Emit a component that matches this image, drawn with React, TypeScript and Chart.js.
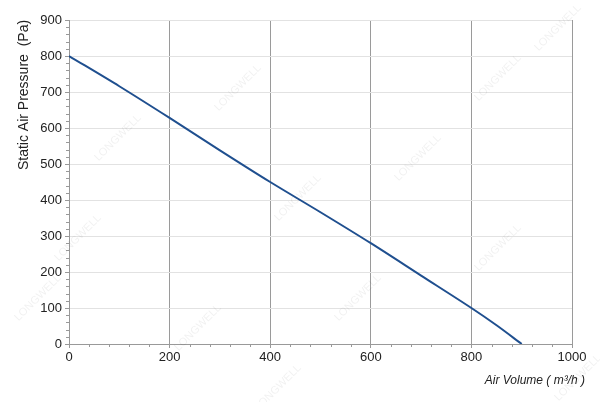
import React, { useEffect, useRef } from "react";
import { Chart, registerables } from "chart.js";

Chart.register(...registerables);

const airVolume = [0, 100, 200, 300, 400, 500, 600, 700, 800, 850, 900];
const staticPressure = [800, 716, 628, 538, 450, 366, 280, 190, 100, 52, 0];
const xTicks = [0, 200, 400, 600, 800, 1000];
const yTicks = [0, 100, 200, 300, 400, 500, 600, 700, 800, 900];
const xTitle = "Air Volume ( m³/h )";
const yTitle = "Static Air Pressure  (Pa)";
const watermark = "LONGWELL";

const FONT = "'Liberation Sans', Arial, sans-serif";

const decorPlugin = {
  id: "decor",
  beforeDatasetsDraw(chart: any) {
    const { ctx } = chart;
    ctx.save();
    ctx.font = `11px ${FONT}`;
    ctx.fillStyle = "rgba(0,0,0,0.06)";
    const marks = [
      [120, 140], [240, 90], [80, 240], [300, 200], [500, 80], [560, 30],
      [420, 160], [200, 330], [360, 300], [500, 250], [40, 300], [280, 390], [580, 380],
    ];
    for (const [mx, my] of marks) {
      ctx.save();
      ctx.translate(mx, my);
      ctx.rotate(-Math.PI / 4);
      ctx.textAlign = "center";
      ctx.fillText(watermark, 0, 0);
      ctx.restore();
    }
    ctx.restore();
  },
  afterDraw(chart: any) {
    const { ctx, chartArea } = chart;
    const xs = chart.scales.x;
    const ys = chart.scales.y;
    ctx.save();
    ctx.strokeStyle = "#999";
    ctx.lineWidth = 1;
    for (let v = 0; v <= 1000; v += 40) {
      if (v % 200 === 0) continue;
      const px = Math.round(xs.getPixelForValue(v)) + 0.5;
      ctx.beginPath();
      ctx.moveTo(px, chartArea.bottom);
      ctx.lineTo(px, chartArea.bottom + 3);
      ctx.stroke();
    }
    for (let v = 0; v <= 900; v += 20) {
      if (v % 100 === 0) continue;
      const py = Math.round(ys.getPixelForValue(v)) + 0.5;
      ctx.beginPath();
      ctx.moveTo(chartArea.left - 3, py);
      ctx.lineTo(chartArea.left, py);
      ctx.stroke();
    }
    ctx.fillStyle = "#222";
    ctx.font = `14px ${FONT}`;
    ctx.save();
    ctx.translate(24, 95);
    ctx.rotate(-Math.PI / 2);
    ctx.textAlign = "center";
    ctx.textBaseline = "middle";
    ctx.fillText(yTitle, 0, 0);
    ctx.restore();
    ctx.font = `italic 12px ${FONT}`;
    ctx.textAlign = "right";
    ctx.textBaseline = "middle";
    ctx.fillText(xTitle, 585, 381);
    ctx.restore();
  },
};

export default function App() {
  const ref = useRef<HTMLCanvasElement>(null);
  useEffect(() => {
    const canvas = ref.current!;
    const chart = new Chart(canvas, {
      type: "line",
      data: {
        datasets: [
          {
            data: airVolume.map((x, i) => ({ x, y: staticPressure[i] })),
            borderColor: "#1f4f8f",
            borderWidth: 2,
            pointRadius: 0,
            tension: 0.3,
            fill: false,
          },
        ],
      },
      options: {
        animation: false,
        responsive: false,
        maintainAspectRatio: false,
        devicePixelRatio: 1,
        layout: { padding: { left: 0, right: 28, top: 20, bottom: 0 } },
        plugins: { legend: { display: false }, tooltip: { enabled: false } },
        scales: {
          x: {
            type: "linear",
            min: 0,
            max: 1000,
            afterBuildTicks: (s: any) => {
              s.ticks = xTicks.map((v) => ({ value: v }));
            },
            afterFit: (s: any) => {
              s.height = 58;
            },
            ticks: {
              color: "#222",
              font: { family: FONT, size: 13 },
              padding: 2,
              maxRotation: 0,
              callback: (v: any) => String(v),
            },
            grid: {
              color: "#9a9a9a",
              tickLength: 4,
              tickColor: "#999",
            },
            border: { display: true, color: "#999" },
          },
          y: {
            type: "linear",
            min: 0,
            max: 900,
            afterBuildTicks: (s: any) => {
              s.ticks = yTicks.map((v) => ({ value: v }));
            },
            afterFit: (s: any) => {
              s.width = 69;
            },
            ticks: {
              color: "#222",
              font: { family: FONT, size: 13 },
              padding: 3,
              callback: (v: any) => String(v),
            },
            grid: {
              color: "#e2e2e2",
              tickLength: 4,
              tickColor: "#999",
            },
            border: { display: true, color: "#999" },
          },
        },
      },
      plugins: [decorPlugin],
    } as any);
    return () => chart.destroy();
  }, []);
  return (
    <div style={{ position: "fixed", left: 0, top: 0, width: 600, height: 402, background: "#fff" }}>
      <canvas ref={ref} width={600} height={402} style={{ width: 600, height: 402 }} />
    </div>
  );
}
